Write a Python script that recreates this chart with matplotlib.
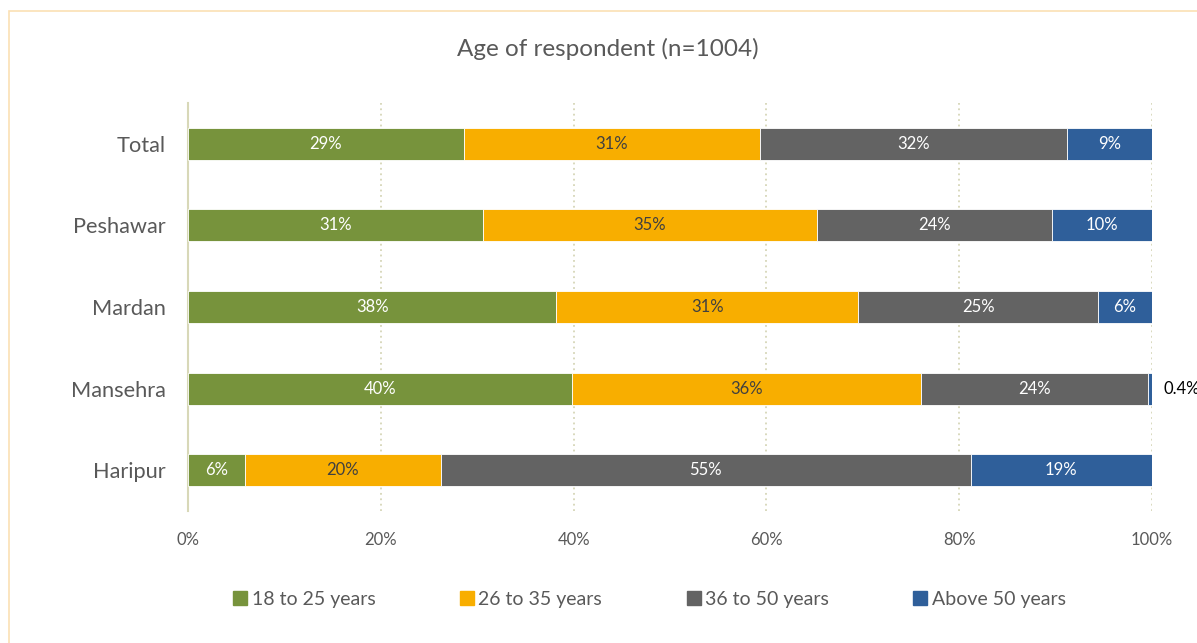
import matplotlib.pyplot as plt
from matplotlib.patches import Rectangle
from matplotlib.lines import Line2D

plt.rcParams["font.family"] = ["Lato", "DejaVu Sans"]

regions = ["Total", "Peshawar", "Mardan", "Mansehra", "Haripur"]
age_groups = ["18 to 25 years", "26 to 35 years", "36 to 50 years", "Above 50 years"]
age_18_25 = [28.6, 30.6, 38.2, 39.8, 5.9]
age_26_35 = [30.7, 34.6, 31.3, 36.2, 20.3]
age_36_50 = [31.9, 24.4, 24.9, 23.6, 55.0]
age_50_up = [8.8, 10.4, 5.6, 0.4, 18.8]
xtick_labels = ["0%", "20%", "40%", "60%", "80%", "100%"]

colors = ["#77933c", "#f8ae00", "#636363", "#2f5f9a"]
label_colors = ["white", "#404040", "white", "white"]
text_gray = "#595959"

fig = plt.figure(figsize=(11.97, 6.43), dpi=100)
ax = fig.add_axes([0.1571, 0.2053, 0.8053, 0.6345])

# outer chart frame
fig.patches.append(Rectangle((9 / 1197, -0.1), 1.2, 1 - 11 / 643 + 0.1,
                             transform=fig.transFigure, fill=False,
                             edgecolor="#fbe0b4", lw=1.2))

series = [age_18_25, age_26_35, age_36_50, age_50_up]
y = list(range(len(regions)))
left = [0.0] * len(regions)
for vals, col, lcol, name in zip(series, colors, label_colors, age_groups):
    bars = ax.barh(y, vals, left=left, height=0.39, color=col,
                   edgecolor="white", linewidth=0.6, label=name, zorder=3)
    for b, v in zip(bars, vals):
        cx = b.get_x() + b.get_width() / 2
        cy = b.get_y() + b.get_height() / 2
        if v < 2:
            ax.text(b.get_x() + b.get_width() + 1.2, cy, f"{v:.1f}%",
                    ha="left", va="center", fontsize=12, color="black",
                    clip_on=False)
        else:
            ax.text(cx, cy, f"{v:.0f}%", ha="center", va="center",
                    fontsize=12, color=lcol, zorder=4)
    left = [l + v for l, v in zip(left, vals)]

ax.set_xlim(0, 100)
ax.set_ylim(4.5, -0.5)
ax.set_yticks(y)
ax.set_yticklabels(regions, fontsize=15.7, color=text_gray)
ax.set_xticks([0, 20, 40, 60, 80, 100])
ax.set_xticklabels(xtick_labels, fontsize=12, color=text_gray)
ax.tick_params(length=0)
ax.tick_params(axis="y", pad=16)
ax.tick_params(axis="x", pad=15)

for gx in [20, 40, 60, 80, 100]:
    ax.axvline(gx, color="#d6d6b8", lw=1.3, ls=(0, (1, 2)), zorder=1)
for s in ["top", "right", "bottom"]:
    ax.spines[s].set_visible(False)
ax.spines["left"].set_color("#d8d8b8")
ax.spines["left"].set_linewidth(1.5)

fig.text(0.5075, 1 - 49 / 643, "Age of respondent (n=1004)", ha="center",
         va="center", fontsize=17.5, color=text_gray)

handles = [Line2D([], [], marker="s", ls="", markersize=10, color=c)
           for c in colors]
fig.legend(handles, age_groups, loc="center", ncol=4,
           bbox_to_anchor=(0.5415, 1 - 599 / 643), frameon=False,
           fontsize=14, labelcolor=text_gray, handletextpad=0.1,
           columnspacing=4.2, handlelength=1.0)

fig.savefig("out.png", dpi=100)
